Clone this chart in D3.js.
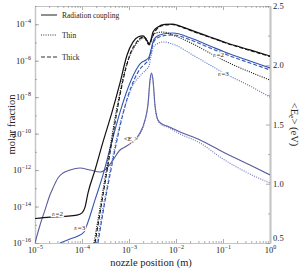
<!DOCTYPE html>
<html><head><meta charset="utf-8">
<script src="https://cdn.jsdelivr.net/npm/d3@7"></script>
<style>
body{margin:0;background:#fff}
svg{display:block}
text{font-family:"Liberation Serif","DejaVu Serif",serif;fill:#222}
</style>
</head><body>
<svg id="c" width="301" height="271"></svg>
<script>
// ---- tick labels ----
const xTickVals = [1e-5, 1e-4, 1e-3, 1e-2, 1e-1, 1];
const xTickExp  = ["−5", "−4", "−3", "−2", "−1", "0"];
const yTickVals = [1e-16, 1e-14, 1e-12, 1e-10, 1e-8, 1e-6, 1e-4];
const yTickExp  = ["−16", "−14", "−12", "−10", "−8", "−6", "−4"];
const eTickVals = [0.5, 1.0, 1.5, 2.0, 2.5];
const eTickLabels = ["0.5", "1.0", "1.5", "2.0", "2.5"];

// ---- n = 2 species (molar fraction) ----
const n2RadX = [1e-5, 2.08e-5, 4.35e-5, 7.83e-5, 1.0e-4, 1.16e-4, 1.34e-4, 1.89e-4, 2.80e-4, 4.35e-4, 6.44e-4, 9.06e-4, 1.22e-3, 1.55e-3, 1.99e-3, 2.30e-3, 2.67e-3, 2.94e-3, 3.24e-3, 4.14e-3, 5.83e-3, 8.22e-3, 1.22e-2, 2.30e-2, 5.28e-2, 0.122, 0.375, 1];
const n2RadY = [2.2e-15, 2.6e-15, 2.9e-15, 3.4e-15, 4.5e-15, 9.3e-15, 5.5e-14, 1e-12, 3.5e-11, 1.5e-9, 6.0e-8, 2.0e-6, 1.07e-5, 2.0e-5, 2.3e-5, 1.55e-5, 8.3e-6, 1.4e-5, 3.7e-5, 7.1e-5, 9.8e-5, 1.02e-4, 7.9e-5, 4.3e-5, 2.0e-5, 9.3e-6, 3.9e-6, 1.8e-6];

const n2ThinX = [1.80e-4, 2.41e-4, 3.09e-4, 3.94e-4, 5.04e-4, 6.44e-4, 8.22e-4, 1.05e-3, 1.34e-3, 1.71e-3, 2.19e-3, 2.54e-3, 2.80e-3, 3.09e-3, 3.75e-3, 5.29e-3, 9.52e-3, 2.30e-2, 5.28e-2, 0.122, 0.375, 1];
const n2ThinY = [1e-16, 8.3e-15, 3.7e-13, 1.6e-11, 7.3e-10, 1.9e-8, 3.1e-7, 2.0e-6, 6.5e-6, 1.4e-5, 1.8e-5, 1.07e-5, 8.3e-6, 1.8e-5, 3.3e-5, 3.7e-5, 2.3e-5, 8.3e-6, 2.6e-6, 8.5e-7, 2.4e-7, 8.7e-8];

const n2ThickX = [1.89e-4, 2.54e-4, 3.24e-4, 4.14e-4, 5.29e-4, 6.76e-4, 8.63e-4, 1.10e-3, 1.41e-3, 1.80e-3, 2.08e-3, 2.67e-3, 3.09e-3, 3.75e-3, 5.29e-3, 8.22e-3, 1.22e-2, 2.30e-2, 5.28e-2, 0.122, 0.375, 1];
const n2ThickY = [1e-16, 9.4e-15, 4.2e-13, 1.85e-11, 8.2e-10, 2.5e-8, 4.0e-7, 3.0e-6, 9.4e-6, 1.8e-5, 2.0e-5, 7.3e-6, 1.8e-5, 4.8e-5, 8.5e-5, 9.7e-5, 7.5e-5, 4.0e-5, 1.9e-5, 8.8e-6, 3.6e-6, 1.7e-6];

// ---- n = 3 species (molar fraction) ----
const n3RadX = [3.40e-5, 5.56e-5, 8.22e-5, 1.10e-4, 1.34e-4, 1.89e-4, 2.80e-4, 4.14e-4, 6.44e-4, 9.52e-4, 1.34e-3, 1.80e-3, 2.30e-3, 2.67e-3, 2.94e-3, 3.24e-3, 3.75e-3, 5.29e-3, 8.63e-3, 1.99e-2, 5.28e-2, 0.141, 0.375, 1];
const n3RadY = [1e-16, 1.66e-16, 2.4e-16, 4.0e-16, 1.42e-15, 2.3e-14, 5.4e-13, 2.4e-11, 1.5e-9, 3.2e-8, 2.4e-7, 7.5e-7, 1.09e-6, 1.6e-6, 3.86e-6, 1.06e-5, 2.0e-5, 2.9e-5, 3.3e-5, 1.8e-5, 6.4e-6, 2.3e-6, 9.6e-7, 4.0e-7];

const n3ThinX = [2.08e-4, 2.80e-4, 3.75e-4, 5.04e-4, 6.76e-4, 9.06e-4, 1.22e-3, 1.71e-3, 2.30e-3, 2.67e-3, 2.94e-3, 3.24e-3, 3.94e-3, 5.29e-3, 9.52e-3, 2.30e-2, 5.28e-2, 0.122, 0.375, 1];
const n3ThinY = [1e-16, 8.3e-15, 4.7e-13, 2.1e-11, 5.6e-10, 6.9e-9, 4.7e-8, 1.45e-7, 3.1e-7, 5.1e-7, 1.8e-6, 5.0e-6, 8.3e-6, 1.07e-5, 7.3e-6, 2.0e-6, 5.8e-7, 1.7e-7, 4.1e-8, 1.0e-8];

const n3ThickX = [2.19e-4, 2.94e-4, 3.94e-4, 5.29e-4, 7.10e-4, 9.52e-4, 1.28e-3, 1.71e-3, 2.30e-3, 2.67e-3, 2.94e-3, 3.24e-3, 3.75e-3, 5.29e-3, 8.63e-3, 1.99e-2, 5.28e-2, 0.141, 0.375, 1];
const n3ThickY = [1e-16, 9.4e-15, 5.4e-13, 2.4e-11, 7.2e-10, 1.16e-8, 8.7e-8, 3.5e-7, 7.5e-7, 1.24e-6, 3.0e-6, 8.2e-6, 1.55e-5, 2.3e-5, 2.6e-5, 1.4e-5, 5.0e-6, 1.8e-6, 7.5e-7, 3.1e-7];

// ---- mean electron energy <E_e> (eV, right axis) ----
const eRadX = [1e-5, 1.28e-5, 1.63e-5, 2.08e-5, 2.41e-5, 3.08e-5, 3.94e-5, 5.56e-5, 9.06e-5, 1.48e-4, 2.41e-4, 3.40e-4, 4.57e-4, 6.44e-4, 8.22e-4, 1.16e-3, 1.71e-3, 2.19e-3, 2.54e-3, 2.80e-3, 3.01e-3, 3.24e-3, 3.57e-3, 4.14e-3, 5.04e-3, 6.44e-3, 1.22e-2, 3.24e-2, 0.1, 0.375, 1];
const eRadY = [0.5, 0.652, 0.778, 0.905, 0.964, 1.049, 1.091, 1.116, 1.133, 1.116, 1.099, 1.133, 1.200, 1.285, 1.310, 1.352, 1.428, 1.538, 1.673, 1.876, 1.935, 1.876, 1.665, 1.538, 1.504, 1.487, 1.437, 1.369, 1.268, 1.158, 1.074];

const eThinX = [1.16e-3, 1.71e-3, 2.19e-3, 2.54e-3, 2.80e-3, 3.01e-3, 3.24e-3, 3.57e-3, 4.14e-3, 5.04e-3, 6.44e-3, 1.22e-2, 3.24e-2, 0.1, 0.375, 1];
const eThinY = [1.352, 1.420, 1.530, 1.665, 1.859, 1.918, 1.867, 1.648, 1.530, 1.496, 1.479, 1.420, 1.344, 1.209, 1.082, 1.006];

const legendLabels = ["Radiation coupling", "Thin", "Thick"];

// ---- layout ----
const L = 35, R = 270, T = 6, B = 243;
const svg = d3.select("#c");
const x = d3.scaleLog().domain([1e-5, 1]).range([L, R]);
const y = d3.scaleLog().domain([1e-16, 1e-3]).range([B, T]);
const e = d3.scaleLinear().domain([0.5, 2.5]).range([B, T]);

const frame = "#c4c4c4";
const BLACK = "#111", BLUE = "#3456b0", BLUE2 = "#4a6cd0", PURP = "#5a5c9e", PURP2 = "#6d70b8";

svg.append("defs").append("clipPath").attr("id", "clip")
  .append("rect").attr("x", L).attr("y", T).attr("width", R - L).attr("height", B - T);

// minor tick values
const xMinor = [];
for (let d = -5; d < 0; d++) for (let m = 2; m <= 9; m++) xMinor.push(m * Math.pow(10, d));
const yMajorAll = d3.range(-16, -2).map(p => Math.pow(10, p));
const eMinor = [0.75, 1.25, 1.75, 2.25];

function styleAxis(g) {
  g.select(".domain").attr("stroke", frame).attr("stroke-width", 1.2);
  g.selectAll(".tick line").attr("stroke", "#999").attr("stroke-width", 0.8);
}

// bottom axis
const gxb = svg.append("g").attr("transform", `translate(0,${B})`)
  .call(d3.axisBottom(x).tickValues(xTickVals).tickSizeInner(-4).tickSizeOuter(0).tickPadding(4))
  .call(styleAxis);
gxb.selectAll(".tick text").each(function(d, i) {
  const t = d3.select(this).text(null).attr("font-size", 8.5).attr("fill", "#222");
  t.append("tspan").text("10");
  t.append("tspan").attr("dy", -4).attr("font-size", 6).text(xTickExp[i]);
});
svg.append("g").attr("transform", `translate(0,${B})`)
  .call(d3.axisBottom(x).tickValues(xMinor).tickSizeInner(-2).tickSizeOuter(0).tickFormat(""))
  .call(styleAxis);

// top axis
svg.append("g").attr("transform", `translate(0,${T})`)
  .call(d3.axisTop(x).tickValues(xTickVals).tickSizeInner(-4).tickSizeOuter(0).tickFormat(""))
  .call(styleAxis);
svg.append("g").attr("transform", `translate(0,${T})`)
  .call(d3.axisTop(x).tickValues(xMinor).tickSizeInner(-2).tickSizeOuter(0).tickFormat(""))
  .call(styleAxis);

// left axis
const gyl = svg.append("g").attr("transform", `translate(${L},0)`)
  .call(d3.axisLeft(y).tickValues(yTickVals).tickSizeInner(-4).tickSizeOuter(0).tickPadding(4))
  .call(styleAxis);
gyl.selectAll(".tick text").each(function(d, i) {
  const t = d3.select(this).text(null).attr("font-size", 8.5).attr("fill", "#222");
  t.append("tspan").text("10");
  t.append("tspan").attr("dy", -4).attr("font-size", 6).text(yTickExp[i]);
});
svg.append("g").attr("transform", `translate(${L},0)`)
  .call(d3.axisLeft(y).tickValues(yMajorAll).tickSizeInner(-2).tickSizeOuter(0).tickFormat(""))
  .call(styleAxis);

// right axis
const gyr = svg.append("g").attr("transform", `translate(${R},0)`)
  .call(d3.axisRight(e).tickValues(eTickVals).tickSizeInner(-4).tickSizeOuter(0).tickPadding(3)
        .tickFormat((d, i) => eTickLabels[i]))
  .call(styleAxis);
gyr.select(".domain").attr("stroke-width", 2);
gyr.selectAll(".tick text").attr("font-size", 8.5).attr("fill", "#222")
  .attr("dy", d => d === 0.5 ? "-0.25em" : "0.32em");
svg.append("g").attr("transform", `translate(${R},0)`)
  .call(d3.axisRight(e).tickValues(eMinor).tickSizeInner(-2).tickSizeOuter(0).tickFormat(""))
  .call(styleAxis);

// curves
const plot = svg.append("g").attr("clip-path", "url(#clip)");
const lineY = d3.line().x(d => x(d[0])).y(d => y(d[1])).curve(d3.curveMonotoneX);
const lineE = d3.line().x(d => x(d[0])).y(d => e(d[1])).curve(d3.curveMonotoneX);

const series = [
  {xs: eRadX, ys: eRadY, gen: lineE, c: PURP, dash: null, w: 1.1},
  {xs: eThinX, ys: eThinY, gen: lineE, c: PURP2, dash: "1,1.3", w: 1.1},
  {xs: n3ThinX, ys: n3ThinY, gen: lineY, c: BLUE2, dash: "1,1.3", w: 1.1},
  {xs: n3ThickX, ys: n3ThickY, gen: lineY, c: BLUE, dash: "4,2", w: 1.1},
  {xs: n3RadX, ys: n3RadY, gen: lineY, c: BLUE, dash: null, w: 1.1},
  {xs: n2ThinX, ys: n2ThinY, gen: lineY, c: BLACK, dash: "1,1.3", w: 1.1},
  {xs: n2ThickX, ys: n2ThickY, gen: lineY, c: BLACK, dash: "4,2", w: 1.1},
  {xs: n2RadX, ys: n2RadY, gen: lineY, c: BLACK, dash: null, w: 1.2},
];
series.forEach(s => {
  plot.append("path").attr("d", s.gen(d3.zip(s.xs, s.ys)))
    .attr("fill", "none").attr("stroke", s.c).attr("stroke-width", s.w)
    .attr("stroke-dasharray", s.dash);
});

// in-plot labels
function inLabel(xv, yv, txt, scale) {
  const t = svg.append("text").attr("x", x(xv)).attr("y", scale(yv)).attr("font-size", 7)
    .attr("text-anchor", "middle").attr("fill", "#333").attr("stroke", "#fff").attr("stroke-width", 2.5)
    .attr("paint-order", "stroke");
  t.append("tspan").attr("font-style", "italic").text("n");
  t.append("tspan").text(txt);
}
inLabel(3.0e-5, 3.0e-15, "=2", y);
inLabel(9.0e-5, 5.0e-16, "=3", y);
inLabel(8.0e-2, 1.5e-6, "=2", y);
inLabel(1.02e-1, 1.4e-7, "=3", y);

const eLab = svg.append("text").attr("x", x(1.1e-3)).attr("y", e(1.36)).attr("font-size", 7)
  .attr("text-anchor", "middle").attr("fill", "#333").attr("stroke", "#fff").attr("stroke-width", 2).attr("paint-order", "stroke");
eLab.append("tspan").text("<E");
eLab.append("tspan").attr("font-size", 5).attr("dy", 1.5).text("e");
eLab.append("tspan").attr("dy", -1.5).text(">");

// legend
const legDash = [null, "1,1.3", "4,2"];
const legY = [15, 35, 57];
legendLabels.forEach((lab, i) => {
  svg.append("line").attr("x1", 41).attr("x2", 57).attr("y1", legY[i]).attr("y2", legY[i])
    .attr("stroke", "#333").attr("stroke-width", 1.1).attr("stroke-dasharray", legDash[i]);
  svg.append("text").attr("x", 62).attr("y", legY[i] + 2.5).attr("font-size", 7.5).text(lab);
});

// axis titles
svg.append("text").attr("transform", `translate(15,${(T + B) / 2}) rotate(-90)`)
  .attr("text-anchor", "middle").attr("font-size", 10.5).text("molar fraction");
svg.append("text").attr("x", 151).attr("y", 266).attr("text-anchor", "middle")
  .attr("font-size", 10.5).text("nozzle position (m)");
const rt = svg.append("text").attr("transform", `translate(291,${(T + B) / 2}) rotate(90)`)
  .attr("text-anchor", "middle").attr("font-size", 10.5);
rt.append("tspan").text("<E");
rt.append("tspan").attr("font-size", 7.5).attr("dy", 2.5).text("e");
rt.append("tspan").attr("dy", -2.5).text("> (eV)");
</script>
</body></html>
